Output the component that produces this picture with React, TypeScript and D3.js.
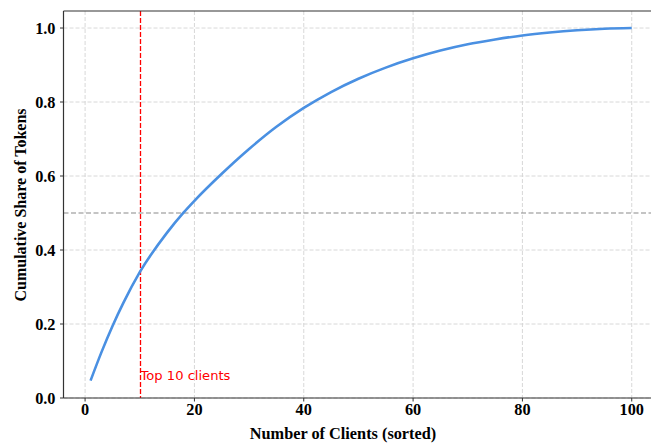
import React from "react";
import * as d3 from "d3";

const clientRank: number[] = [1, 3, 5, 7, 10, 15, 18, 20, 25, 30, 35, 40, 45, 50, 55, 60, 65, 70, 75, 80, 85, 90, 95, 100];
const cumulativeShare: number[] = [0.047, 0.124, 0.194, 0.257, 0.34, 0.447, 0.501, 0.533, 0.606, 0.673, 0.733, 0.784, 0.827, 0.863, 0.893, 0.918, 0.939, 0.956, 0.969, 0.98, 0.988, 0.994, 0.998, 1.0];
const xTicks: number[] = [0, 20, 40, 60, 80, 100];
const yTicks: number[] = [0, 0.2, 0.4, 0.6, 0.8, 1.0];
const topN = 10;
const halfLine = 0.5;
const annotation = "Top 10 clients";
const xLabel = "Number of Clients (sorted)";
const yLabel = "Cumulative Share of Tokens";

const W = 651;
const H = 444;
const left = 63.5;
const right = 658.8;
const top = 11;
const bottom = 398;

export default function App() {
  const x = d3.scaleLinear().domain([-3.95, 104.95]).range([left, right]);
  const y = d3.scaleLinear().domain([0, 1.046]).range([bottom, top]);
  const pts: [number, number][] = clientRank.map((r, i) => [r, cumulativeShare[i]]);
  const line = d3
    .line<[number, number]>()
    .x((d) => x(d[0]))
    .y((d) => y(d[1]))
    .curve(d3.curveMonotoneX);
  const serif = "'Liberation Serif', 'Times New Roman', serif";
  const gridColor = "#d4d4d4";
  const tickFont = 16.3;
  const redX = Math.round(x(topN)) + 0.5;
  return (
    <svg
      width={W}
      height={H}
      style={{ position: "fixed", left: 0, top: 0, background: "#fff" }}
    >
      <rect x={0} y={0} width={W} height={H} fill="#fff" />
      <defs>
        <clipPath id="plot">
          <rect x={left} y={top} width={right - left} height={bottom - top} />
        </clipPath>
      </defs>
      {/* grid */}
      {xTicks.map((t) => (
        <line
          key={"gx" + t}
          x1={x(t)}
          x2={x(t)}
          y1={top}
          y2={bottom}
          stroke={gridColor}
          strokeWidth={0.9}
          strokeDasharray="4,2"
        />
      ))}
      {yTicks.map((t) => (
        <line
          key={"gy" + t}
          x1={left}
          x2={right}
          y1={y(t)}
          y2={y(t)}
          stroke={gridColor}
          strokeWidth={0.9}
          strokeDasharray="4,2"
        />
      ))}
      {/* reference lines */}
      <line
        x1={left}
        x2={right}
        y1={y(halfLine)}
        y2={y(halfLine)}
        stroke="#8a8a8a"
        strokeWidth={1.2}
        strokeDasharray="5,2.5"
      />
      <line
        x1={redX}
        x2={redX}
        y1={top}
        y2={bottom}
        stroke="#ff0000"
        strokeWidth={1.3}
        strokeDasharray="5,2"
      />
      <path
        d={line(pts) || ""}
        fill="none"
        stroke="#4a90e2"
        strokeWidth={2.6}
        strokeLinecap="butt"
        clipPath="url(#plot)"
      />
      <text
        x={x(topN) + 0.8}
        y={y(0.05) + 0.5}
        fill="#ff0000"
        fontFamily="'DejaVu Sans', sans-serif"
        fontSize={13.1}
      >
        {annotation}
      </text>
      {/* spines */}
      <line x1={left} x2={left} y1={top} y2={bottom} stroke="#333" strokeWidth={1.2} />
      <line x1={left} x2={right} y1={bottom} y2={bottom} stroke="#333" strokeWidth={1.2} />
      <line x1={left} x2={right} y1={top} y2={top} stroke="#333" strokeWidth={1.2} />
      <line x1={right} x2={right} y1={top} y2={bottom} stroke="#333" strokeWidth={1.2} />
      {/* x ticks */}
      {xTicks.map((t) => (
        <g key={"xt" + t}>
          <line x1={x(t)} x2={x(t)} y1={bottom} y2={bottom + 3.5} stroke="#333" strokeWidth={1} />
          <text
            x={x(t)}
            y={414.5}
            textAnchor="middle"
            fontFamily={serif}
            fontWeight="bold"
            fontSize={tickFont}
            fill="#000"
          >
            {String(t)}
          </text>
        </g>
      ))}
      {/* y ticks */}
      {yTicks.map((t) => (
        <g key={"yt" + t}>
          <line x1={left - 3.5} x2={left} y1={y(t)} y2={y(t)} stroke="#333" strokeWidth={1} />
          <text
            x={55.5}
            y={y(t) + 5.5}
            textAnchor="end"
            fontFamily={serif}
            fontWeight="bold"
            fontSize={tickFont}
            fill="#000"
          >
            {t.toFixed(1)}
          </text>
        </g>
      ))}
      <text
        x={343}
        y={438.5}
        textAnchor="middle"
        fontFamily={serif}
        fontWeight="bold"
        fontSize={16.3}
        fill="#000"
      >
        {xLabel}
      </text>
      <text
        transform={`translate(26,205) rotate(-90)`}
        textAnchor="middle"
        fontFamily={serif}
        fontWeight="bold"
        fontSize={16}
        fill="#000"
      >
        {yLabel}
      </text>
    </svg>
  );
}
